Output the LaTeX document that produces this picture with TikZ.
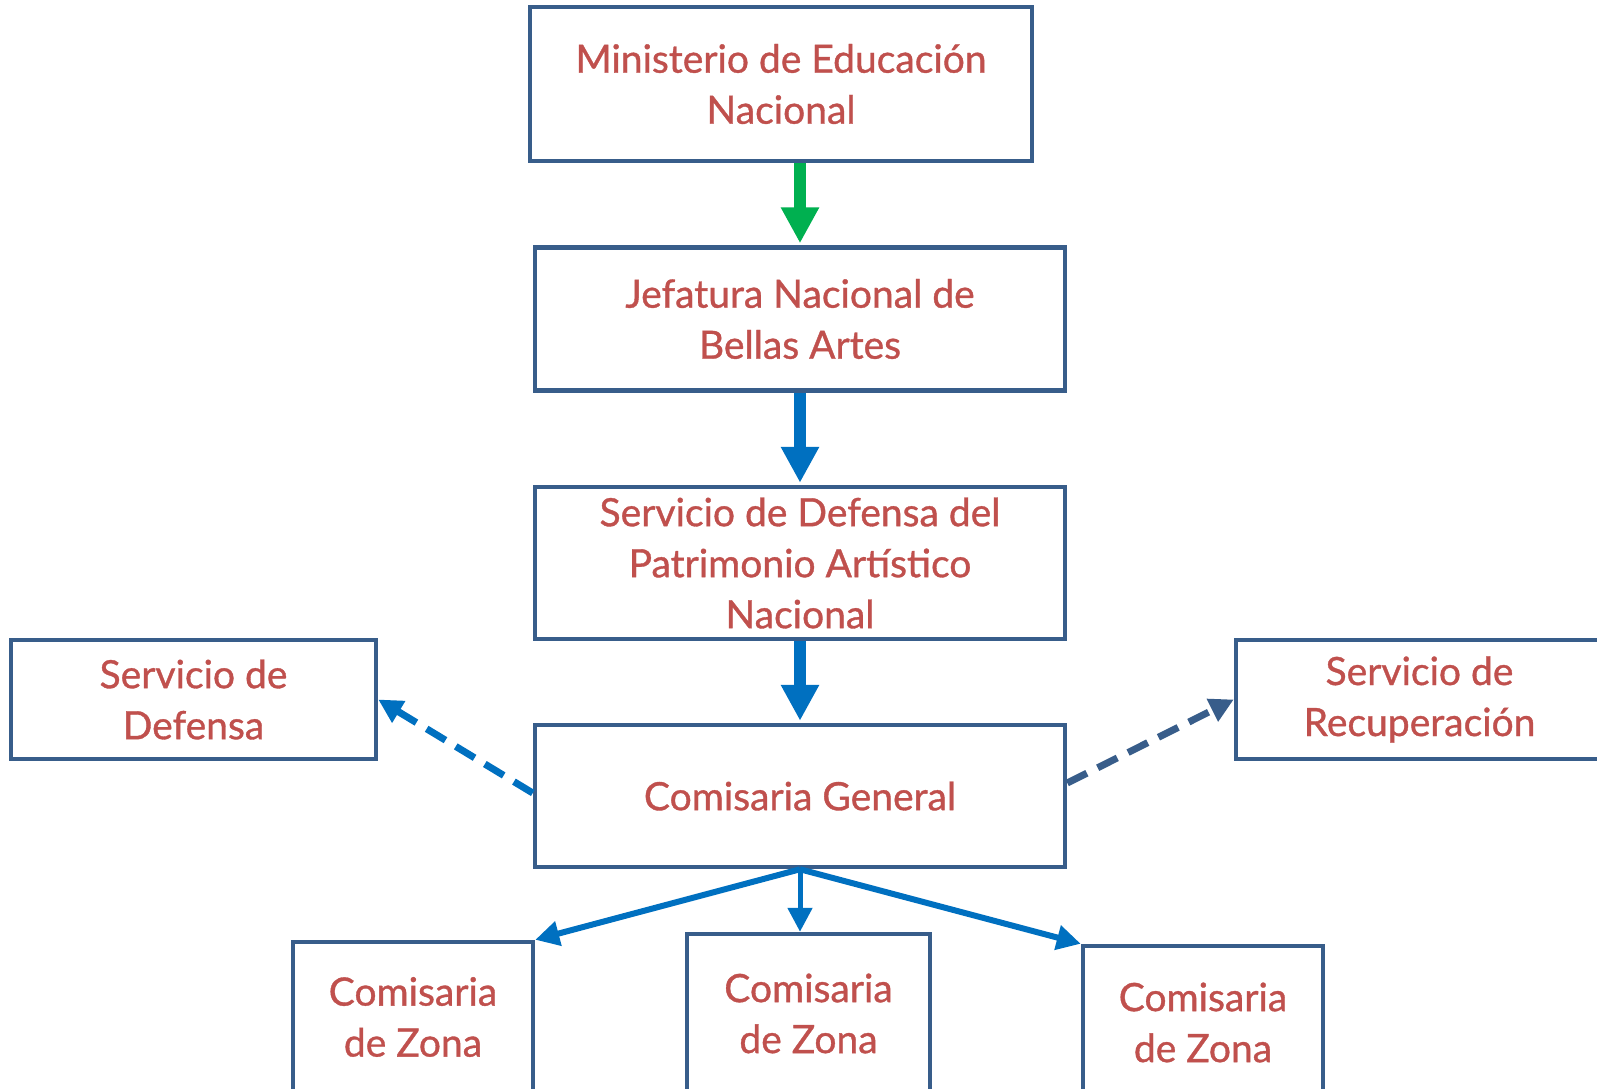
\documentclass[tikz,border=0pt]{standalone}
\usepackage{fontspec}
\setmainfont{Lato}[UprightFeatures={FakeBold=0.9}]
\usetikzlibrary{arrows.meta,calc}
\definecolor{boxblue}{HTML}{385D8A}
\definecolor{txtred}{HTML}{C0504D}
\definecolor{arrblue}{HTML}{0070C0}
\definecolor{arrgreen}{HTML}{00B050}
\begin{document}
\begin{tikzpicture}[x=1pt,y=-1pt,
  box/.style={draw=boxblue,line width=4.5pt,fill=white,text=txtred,align=center,
    inner sep=0pt,font=\fontsize{39}{51}\selectfont},
  bigarrow/.style={line width=12pt,-{Triangle[length=36pt,width=36pt]}},
  smallarrow/.style={line width=6pt,arrblue,-{Triangle[length=24pt,width=24pt]}},
  dasharrow/.style={line width=7pt,dash pattern=on 22pt off 12pt,-{Triangle[length=24pt,width=24pt]}}]
\clip (0,0) rectangle (1597,1088);
\fill[white] (0,0) rectangle (1597,1088);

\node[box,minimum width=502pt,minimum height=154pt] (min) at (781,84) {Ministerio de Educación\\Nacional};
\node[box,minimum width=530pt,minimum height=143pt] (jef) at (800,319) {Jefatura Nacional de\\Bellas Artes};
\node[box,minimum width=530pt,minimum height=152pt] (pat) at (800,563) {Servicio de Defensa del\\Patrimonio Artístico\\Nacional};
\node[box,minimum width=530pt,minimum height=142pt] (cg) at (800,796) {Comisaria General};
\node[box,minimum width=365pt,minimum height=119pt] (sd) at (193.5,699.5) {Servicio de\\Defensa};
\node[box,minimum width=367pt,minimum height=119pt] (sr) at (1419.5,699.5) {Servicio de\\Recuperación};
\node[box,minimum width=240pt,minimum height=150pt] (z1) at (413,1017) {Comisaria\\de Zona};
\node[box,minimum width=243pt,minimum height=159pt] (z2) at (808.5,1013.5) {Comisaria\\de Zona};
\node[box,minimum width=240pt,minimum height=153pt] (z3) at (1203,1022.5) {Comisaria\\de Zona};

\draw[bigarrow,arrgreen,shorten >=2pt] (min.south -| jef.north) -- (jef.north);
\draw[bigarrow,arrblue,shorten >=2pt] (jef.south) -- (pat.north);
\draw[bigarrow,arrblue,shorten >=2pt] (pat.south) -- (cg.north);

\draw[smallarrow] (cg.south) -- (z1.north east);
\draw[smallarrow,line width=5pt] (cg.south) -- (cg.south |- z2.north);
\draw[smallarrow] (cg.south) -- (z3.north west);

\draw[dasharrow,arrblue] ($(cg.west)+(0,-3)$) -- (sd.east);
\draw[dasharrow,boxblue] ($(cg.east)+(0,-13)$) -- (sr.west);
\end{tikzpicture}
\end{document}
